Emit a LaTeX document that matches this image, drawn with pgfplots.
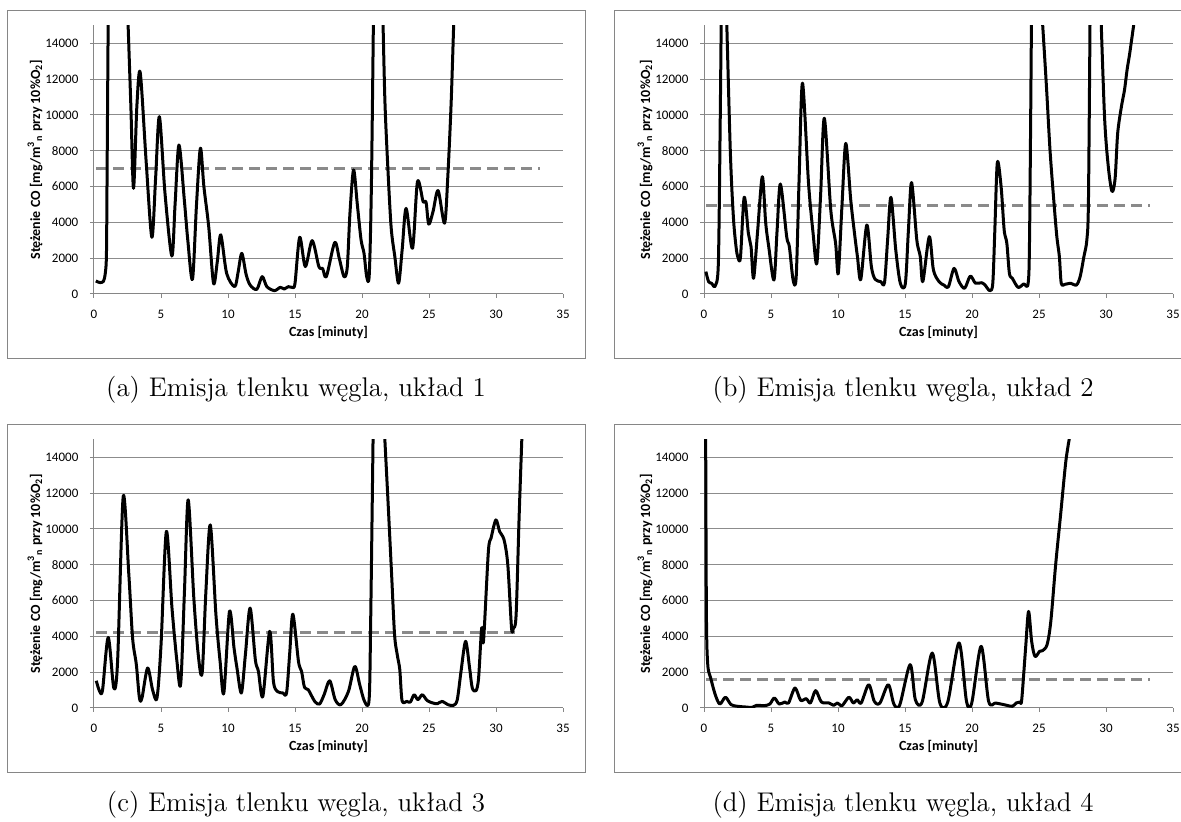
\documentclass[border=0pt]{standalone}
\usepackage{fontspec}
\usepackage{pgfplots}
\pgfplotsset{compat=1.18}
\newfontfamily\carlito{Carlito}
\definecolor{axgray}{RGB}{134,134,134}
\definecolor{gridgray}{RGB}{140,140,140}
\definecolor{limgray}{RGB}{138,138,138}
\pgfplotsset{
  excel/.style={
    scale only axis, width=234.5pt, height=134.35pt,
    anchor=south west,
    xmin=0, xmax=35, ymin=0, ymax=15000,
    xtick={0,5,...,35}, ytick={0,2000,...,14000},
    axis x line=bottom, axis y line=left,
    axis line style={draw=axgray, line width=0.5pt, -},
    ymajorgrids, grid style={draw=gridgray, line width=0.5pt},
    tick align=outside, major tick length=2pt,
    tick style={draw=axgray, line width=0.5pt},
    scaled y ticks=false,
    /pgf/number format/1000 sep={},
    /pgf/number format/assume math mode=true,
    tick label style={font=\carlito\fontsize{6.5}{7}\selectfont, text=black},
    yticklabel style={xshift=-2.3pt},
    xticklabel style={yshift=-2.6pt},
    label style={font=\carlito\bfseries\fontsize{7}{8}\selectfont},
    xlabel={Czas [minuty]},
    ylabel={Stężenie CO [mg/m\textsuperscript{3}\textsubscript{n} przy 10\%O\textsubscript{2}]},
    xlabel style={at={(axis description cs:0.5,-0.1451)}, anchor=center},
    ylabel style={at={(axis description cs:-0.1258,0.5)}, anchor=center},
    unbounded coords=jump,
  },
  co/.style={black, line width=1.5pt, smooth, tension=0.5, line join=round},
  lim/.style={limgray, line width=1.5pt, dash pattern=on 5.5pt off 3pt},
}
\begin{document}
\begin{tikzpicture}
\useasboundingbox (0,0) rectangle (590.5pt,411pt);
\draw[axgray, line width=0.5pt] (3.5pt,231.5pt) rectangle (292.5pt,405.65pt);
\draw[axgray, line width=0.5pt] (307pt,231.5pt) rectangle (596pt,405.65pt);
\draw[axgray, line width=0.5pt] (3.5pt,24.5pt) rectangle (292.5pt,198.8pt);
\draw[axgray, line width=0.5pt] (307pt,24.5pt) rectangle (596pt,198.8pt);

% (a)
\begin{axis}[excel, at={(47pt,264pt)}]
\addplot[lim] coordinates {(0.17,7000) (33.3,7000)};
\addplot[co] table {
x y
0.14 726
0.42 640
0.7 700
0.84 1150
0.93 2270
0.98 7100
1.07 16500
1.5 nan
2.5 16000
2.75 10500
2.95 5900
3.2 10500
3.45 12360
3.9 7300
4.32 3165
4.6 6500
4.88 9900
5.3 5600
5.81 2120
6.05 5000
6.34 8320
6.74 5250
7.0 3000
7.35 820
7.65 5000
7.94 8140
8.2 6000
8.56 3760
8.92 600
9.2 1800
9.46 3300
9.9 1150
10.5 410
10.75 1200
11.03 2270
11.35 1100
11.65 500
12.15 260
12.55 970
12.9 410
13.47 186
13.9 370
14.2 280
14.5 410
14.8 370
15.0 600
15.35 3165
15.77 1530
16.28 2980
16.78 1530
17.06 1430
17.34 970
17.96 2870
18.3 2000
18.66 970
18.9 1500
19.1 4500
19.37 6925
19.65 5000
19.93 3020
20.15 2270
20.35 970
20.54 1060
20.7 6000
20.87 16500
21.2 nan
21.53 16500
21.7 11000
21.9 7480
22.17 3760
22.45 2085
22.73 600
23.0 2500
23.29 4780
23.77 2550
24.14 6270
24.56 5160
24.78 5120
24.98 3900
25.3 4600
25.68 5770
26.16 3950
26.4 6500
26.66 10830
26.9 16500
};
\end{axis}

% (b)
\begin{axis}[excel, at={(352pt,264pt)}]
\addplot[lim] coordinates {(0.17,4950) (33.3,4950)};
\addplot[co] table {
x y
0.14 1250
0.34 690
0.56 600
0.84 450
1.07 1710
1.2 9000
1.3 16500
1.5 nan
1.65 16500
1.96 8040
2.19 4320
2.39 2640
2.53 2050
2.72 2050
3.0 5400
3.31 3390
3.51 2640
3.7 875
4.0 3500
4.35 6550
4.6 4000
4.83 2640
5.22 780
5.45 3500
5.7 6140
6.17 3200
6.37 2640
6.65 780
6.88 970
7.1 6500
7.35 11770
7.8 6180
8.14 3390
8.42 1710
8.7 5500
8.98 9810
9.46 4690
9.82 2830
10.02 1150
10.3 5000
10.58 8410
10.95 5250
11.23 3390
11.45 2085
11.7 820
12.15 3850
12.49 1530
12.77 820
13.19 690
13.47 630
13.7 3000
13.95 5400
14.31 2460
14.65 600
15.02 560
15.25 3500
15.49 6220
15.88 3020
16.14 2085
16.33 690
16.81 3200
17.12 1340
17.54 690
17.9 500
18.24 410
18.66 1430
19.03 690
19.45 320
19.87 1000
20.26 600
20.71 630
20.97 500
21.33 186
21.55 600
21.7 3500
21.89 7340
22.17 6000
22.4 3570
22.6 2830
22.79 1150
23.01 875
23.44 370
23.86 560
24.19 600
24.3 3500
24.45 16500
24.8 nan
25.15 16500
25.54 11770
25.82 8040
26.1 5250
26.33 3200
26.52 2085
26.66 600
26.94 540
27.36 600
27.79 500
28.07 970
28.35 2085
28.57 3020
28.69 5250
28.82 16500
29.2 nan
29.58 16500
29.89 9900
30.17 7110
30.45 5720
30.68 6460
30.87 8970
31.15 10460
31.38 11390
31.57 12500
31.77 13440
32.1 15200
};
\end{axis}

% (c)
\begin{axis}[excel, at={(47pt,57pt)}]
\addplot[lim] coordinates {(0.17,4220) (31.7,4220)};
\addplot[co] table {
x y
0.17 1520
0.42 930
0.64 1020
1.06 3940
1.48 1115
1.76 2600
2.18 11800
2.6 7440
2.88 3900
3.16 2420
3.39 560
3.58 560
4.0 2230
4.37 1020
4.7 560
5.0 3500
5.4 9850
5.82 5580
6.19 2600
6.47 1340
6.75 6500
7.03 11620
7.45 6130
7.78 2970
8.07 1950
8.35 6500
8.68 10220
9.1 5200
9.41 2600
9.69 840
10.11 5390
10.45 3350
10.67 2230
11.0 840
11.3 3000
11.65 5580
12.04 2700
12.27 2045
12.6 650
13.11 4280
13.39 1490
13.67 930
14.09 840
14.37 840
14.6 3000
14.84 5240
15.26 2600
15.49 2045
15.71 1150
15.99 1020
16.47 370
16.83 220
17.17 740
17.59 1520
18.0 465
18.43 186
18.99 930
19.46 2320
19.83 1300
20.19 370
20.53 465
20.65 5000
20.85 16500
21.2 nan
21.6 16500
21.93 11700
22.21 7440
22.43 4090
22.63 2970
22.82 2140
22.99 410
23.33 370
23.61 335
23.89 740
24.17 465
24.5 740
24.87 410
25.29 280
25.62 240
25.99 370
26.41 186
26.83 150
27.11 465
27.39 2045
27.73 3720
28.03 2230
28.23 1115
28.51 970
28.7 1670
28.93 4460
29.07 3760
29.43 8740
29.63 9480
29.99 10500
30.27 9850
30.6 9390
30.88 8000
31.16 4460
31.3 4460
31.5 5200
31.73 10780
31.95 15500
};
\end{axis}

% (d)
\begin{axis}[excel, at={(352pt,57pt)}]
\addplot[lim] coordinates {(0.17,1600) (33.3,1600)};
\addplot[co] table {
x y
0.12 16000
0.18 5200
0.28 2420
0.5 1670
0.84 740
1.18 220
1.6 600
2.02 186
2.53 93
3.09 56
3.59 37
3.93 150
4.49 130
4.91 220
5.25 560
5.61 220
6.03 335
6.31 280
6.79 1115
7.21 430
7.63 520
7.94 280
8.33 970
8.76 335
9.32 280
9.68 150
9.96 280
10.3 130
10.81 600
11.14 280
11.42 465
11.73 280
12.29 1300
12.71 370
13.13 280
13.75 1300
14.17 220
14.6 150
15.38 2420
15.77 465
16.28 335
17.03 3070
17.6 280
18.19 335
19.03 3630
19.59 370
19.98 280
20.68 3440
21.24 370
21.75 280
22.17 220
22.59 150
23.02 93
23.3 280
23.58 335
23.71 465
24.0 3350
24.22 5390
24.45 3720
24.7 2880
25.04 3160
25.26 3200
25.6 3530
25.88 4830
26.24 7990
26.61 10780
27.0 13760
27.3 15200
};
\end{axis}

\node[font=\fontsize{13.5}{16}\selectfont] at (148pt,216pt) {(a) Emisja tlenku węgla, układ 1};
\node[font=\fontsize{13.5}{16}\selectfont] at (451.5pt,216pt) {(b) Emisja tlenku węgla, układ 2};
\node[font=\fontsize{13.5}{16}\selectfont] at (148pt,8.5pt) {(c) Emisja tlenku węgla, układ 3};
\node[font=\fontsize{13.5}{16}\selectfont] at (451.5pt,8.5pt) {(d) Emisja tlenku węgla, układ 4};
\end{tikzpicture}
\end{document}
